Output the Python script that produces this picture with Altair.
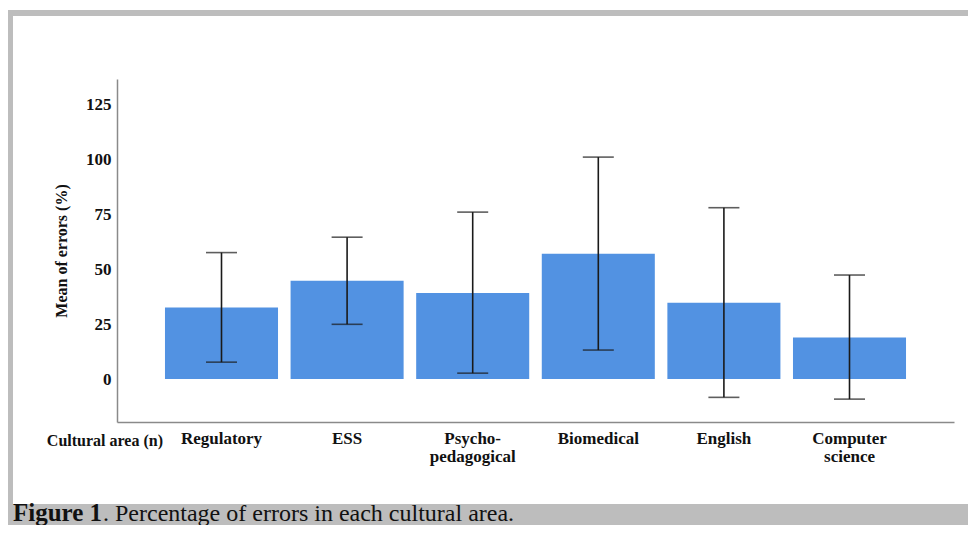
import altair as alt
import pandas as pd

categories = ["Regulatory", "ESS", "Psycho-pedagogical", "Biomedical", "English", "Computer science"]
means = [32.5, 44.7, 39.1, 57.0, 34.7, 18.9]
upper = [57.5, 64.5, 75.9, 100.9, 77.9, 47.3]
lower = [7.7, 24.9, 2.7, 13.2, -8.3, -9.1]
y_ticks = [0, 25, 50, 75, 100, 125]

df = pd.DataFrame({"area": categories, "mean": means, "hi": upper, "lo": lower})

SERIF = "Liberation Serif"
GREY = "#bdbdbd"
BAR = "#5292e2"

xs = alt.Scale(domain=categories, paddingInner=0.1, paddingOuter=0.382)
ys = alt.Scale(domain=[-19.5, 136.4], nice=False, zero=False)

x_enc = alt.X(
    "area:N", scale=xs, sort=categories, title=None,
    axis=alt.Axis(
        labelAngle=0, ticks=False, domainColor="#8a8a8a", domainWidth=1.5,
        labelFont=SERIF, labelFontWeight="bold", labelFontSize=17, labelColor="#111",
        labelPadding=8, labelLineHeight=18, labelBaseline="top",
        labelExpr="split(replace(replace(datum.label, 'Psycho-', 'Psycho-|'), ' ', '|'), '|')",
    ),
)
y_enc = alt.Y(
    "mean:Q", scale=ys, title="Mean of errors (%)",
    axis=alt.Axis(
        values=y_ticks, ticks=False, grid=False, domainColor="#8a8a8a", domainWidth=1.5,
        labelFont=SERIF, labelFontWeight="bold", labelFontSize=17, labelColor="#111",
        labelPadding=6, titleFont=SERIF, titleFontWeight="bold", titleFontSize=16,
        titleColor="#111", titlePadding=16,
    ),
)

base = alt.Chart(df)
bars = base.mark_bar(color=BAR).encode(x=x_enc, y=y_enc)
rules = base.mark_rule(color="#1a1a1a", strokeWidth=1.6).encode(
    x=alt.X("area:N", scale=xs, sort=categories), y=alt.Y("lo:Q", scale=ys), y2="hi:Q"
)
cap_hi = base.mark_tick(color="#1a1a1a", thickness=1.6, size=31).encode(
    x=alt.X("area:N", scale=xs, sort=categories), y=alt.Y("hi:Q", scale=ys)
)
cap_lo = base.mark_tick(color="#1a1a1a", thickness=1.6, size=31).encode(
    x=alt.X("area:N", scale=xs, sort=categories), y=alt.Y("lo:Q", scale=ys)
)

one = alt.Chart(pd.DataFrame({"k": [0]}))
top_bar = one.mark_rect(color=GREY).encode(
    x=alt.value(-109), x2=alt.value(851), y=alt.value(-69), y2=alt.value(-63))
left_bar = one.mark_rect(color=GREY).encode(
    x=alt.value(-109), x2=alt.value(-104), y=alt.value(-69), y2=alt.value(426))
bottom_bar = one.mark_rect(color=GREY).encode(
    x=alt.value(-109), x2=alt.value(851), y=alt.value(425), y2=alt.value(446))

xtitle = one.mark_text(font=SERIF, fontWeight="bold", fontSize=16, color="#111",
                       align="right", baseline="alphabetic").encode(
    x=alt.value(46), y=alt.value(367), text=alt.value("Cultural area (n)"))

cap1 = one.mark_text(font=SERIF, fontWeight="bold", fontSize=25, color="#111",
                     align="left", baseline="alphabetic").encode(
    x=alt.value(-104), y=alt.value(442), text=alt.value("Figure 1"))
cap2 = one.mark_text(font=SERIF, fontSize=24, color="#111",
                     align="left", baseline="alphabetic").encode(
    x=alt.value(-14), y=alt.value(442), text=alt.value(". Percentage of errors in each cultural area."))

chart = alt.layer(
    top_bar, left_bar, bottom_bar, bars, rules, cap_hi, cap_lo, xtitle, cap1, cap2
).properties(
    width=837, height=343,
    padding={"left": 109, "top": 71, "right": 14, "bottom": 103},
    autosize=alt.AutoSizeParams(type="none"),
    background="white",
).configure_view(stroke=None)

chart.save("out.html", embed_options={"renderer": "svg", "actions": False})
